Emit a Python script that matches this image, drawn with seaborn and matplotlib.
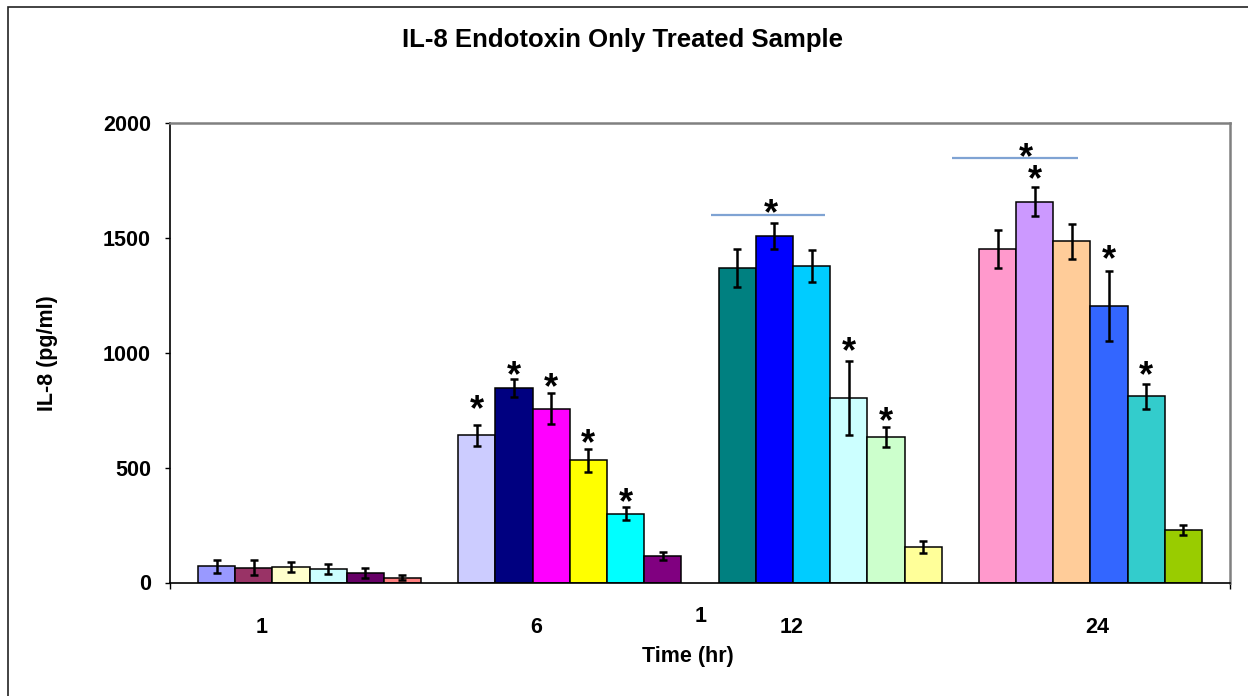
import numpy as np
import pandas as pd
import matplotlib
matplotlib.use("Agg")
import matplotlib.pyplot as plt
import matplotlib.transforms as mtransforms
from matplotlib.patches import Rectangle
from matplotlib.container import BarContainer
import seaborn as sns

# ---- data -------------------------------------------------------------
times = ["1", "6", "12", "24"]

il8_1h = [71, 65, 68, 58, 40, 20]
il8_6h = [640, 846, 757, 532, 300, 114]
il8_12h = [1370, 1507, 1378, 804, 633, 155]
il8_24h = [1453, 1658, 1485, 1203, 810, 228]

sd_1h = [28, 33, 23, 22, 22, 11]
sd_6h = [46, 40, 67, 50, 29, 18]
sd_12h = [82, 57, 69, 160, 43, 25]
sd_24h = [82, 62, 77, 154, 54, 22]

colors_1h = ["#9999FF", "#993366", "#FFFFCC", "#CCFFFF", "#660066", "#FF8080"]
colors_6h = ["#CCCCFF", "#000080", "#FF00FF", "#FFFF00", "#00FFFF", "#800080"]
colors_12h = ["#008080", "#0000FF", "#00CCFF", "#CCFFFF", "#CCFFCC", "#FFFF99"]
colors_24h = ["#FF99CC", "#CC99FF", "#FFCC99", "#3366FF", "#33CCCC", "#99CC00"]

# significance asterisks over single bars: time index, bar index, height
star_time = [1, 1, 1, 1, 1, 2, 2, 3, 3, 3]
star_bar = [0, 1, 2, 3, 4, 3, 4, 1, 3, 4]
star_y = [793, 941, 889, 645, 390, 1047, 739, 1796, 1448, 941]

# significance lines spanning bars: start/end (category units), height, star
line_x0 = [1.543, 2.469]
line_x1 = [1.982, 2.954]
line_y = [1600, 1849]
line_star_x = [1.771, 2.751]
line_star_y = [1644, 1888]

# category label placement (offset from category centre)
label_offset = [-0.184, -0.129, -0.149, 0.025]

n_bars = 6
values = [il8_1h, il8_6h, il8_12h, il8_24h]
errors = [sd_1h, sd_6h, sd_12h, sd_24h]
colors = [colors_1h, colors_6h, colors_12h, colors_24h]

df = pd.DataFrame({
    "time": np.repeat(times, n_bars),
    "sample": [f"s{k}" for _ in times for k in range(n_bars)],
    "il8": np.concatenate(values),
})

# ---- style ------------------------------------------------------------
sns.set_style("white")
plt.rcParams["font.family"] = ["Liberation Sans", "DejaVu Sans"]
plt.rcParams["font.weight"] = "bold"
for key in ["text.color", "axes.labelcolor", "xtick.color", "ytick.color"]:
    plt.rcParams[key] = "black"

W, H = 1248, 696
fig = plt.figure(figsize=(W / 100, H / 100), dpi=100)
ax = fig.add_axes([170 / W, 1 - 582.5 / H, 1060 / W, 459.5 / H])

sns.barplot(
    data=df, x="time", y="il8", hue="sample", order=times,
    hue_order=[f"s{k}" for k in range(n_bars)],
    width=n_bars / (n_bars + 1), gap=0, dodge=True, errorbar=None,
    edgecolor="black", linewidth=1.1, legend=False, ax=ax,
    palette=["#cccccc"] * n_bars, saturation=1,
)

# colour each bar individually and add its error bar
bar_containers = [c for c in ax.containers if isinstance(c, BarContainer)]
for k, cont in enumerate(bar_containers):
    for j, patch in enumerate(cont.patches):
        patch.set_facecolor(colors[j][k])
        patch.set_edgecolor("black")
        xc = patch.get_x() + patch.get_width() / 2
        ax.errorbar(xc, patch.get_height(), yerr=errors[j][k], fmt="none",
                    ecolor="black", elinewidth=1.8, capsize=3.0,
                    capthick=1.8, zorder=5)

bar_w = 1 / (n_bars + 1)
star_fs = 26
for t, b, y in zip(star_time, star_bar, star_y):
    xc = t + (b - (n_bars - 1) / 2) * bar_w
    ax.annotate("*", (xc, y), xytext=(0, -0.55 * star_fs),
                textcoords="offset points", ha="center", va="baseline",
                fontsize=star_fs, fontweight="bold", zorder=6)

for x0, x1, y, sx, sy in zip(line_x0, line_x1, line_y, line_star_x, line_star_y):
    ax.plot([x0, x1], [y, y], color="#7FA3D3", lw=1.6, zorder=6,
            solid_capstyle="butt")
    ax.annotate("*", (sx, sy), xytext=(0, -0.55 * star_fs),
                textcoords="offset points", ha="center", va="baseline",
                fontsize=star_fs, fontweight="bold", zorder=6)

# ---- axes -------------------------------------------------------------
ax.set_xlim(-0.536, 3.536)
ax.set_ylim(0, 2000)
ax.set_yticks([0, 500, 1000, 1500, 2000])
ax.tick_params(axis="y", direction="out", length=3.6, width=1.0,
               pad=10, labelsize=15.5, left=True)
for lab in ax.get_yticklabels():
    lab.set_fontweight("bold")

ax.set_xticks([i + o for i, o in enumerate(label_offset)])
ax.set_xticklabels(times, fontsize=15.5, fontweight="bold")
ax.tick_params(axis="x", length=0, pad=25)
ax.set_xticks([-0.536, 3.536], minor=True)
ax.tick_params(axis="x", which="minor", length=4, width=1.0, direction="out",
               bottom=True)

tr = mtransforms.blended_transform_factory(ax.transData, ax.transAxes)
ax.text(1.504, -0.075, "1", transform=tr, ha="center", va="center",
        fontsize=15.5, fontweight="bold")

ax.set_xlabel("Time (hr)", fontsize=15.5, fontweight="bold")
ax.xaxis.set_label_coords((688 - 170) / 1060, (582.5 - 656.7) / 459.5)
ax.xaxis.label.set_va("center")
ax.set_ylabel("IL-8 (pg/ml)", fontsize=15.5, fontweight="bold")
ax.yaxis.set_label_coords((48 - 170) / 1060, (582.5 - 353) / 459.5)
ax.yaxis.label.set_va("center")

for side in ["left", "bottom"]:
    ax.spines[side].set_color("black")
    ax.spines[side].set_linewidth(1.2)
for side in ["top", "right"]:
    ax.spines[side].set_color("#808080")
    ax.spines[side].set_linewidth(1.8)

fig.suptitle("IL-8 Endotoxin Only Treated Sample", x=622 / W, y=1 - 40.5 / H,
             va="center", fontsize=18.5, fontweight="bold")

# chart frame
fig.patches.append(Rectangle((8 / W, -0.2), 1.2, 1.2 - 7 / H,
                             transform=fig.transFigure, fill=False,
                             edgecolor="#222222", lw=1.2))

fig.savefig("out.png", dpi=100, facecolor="white")
